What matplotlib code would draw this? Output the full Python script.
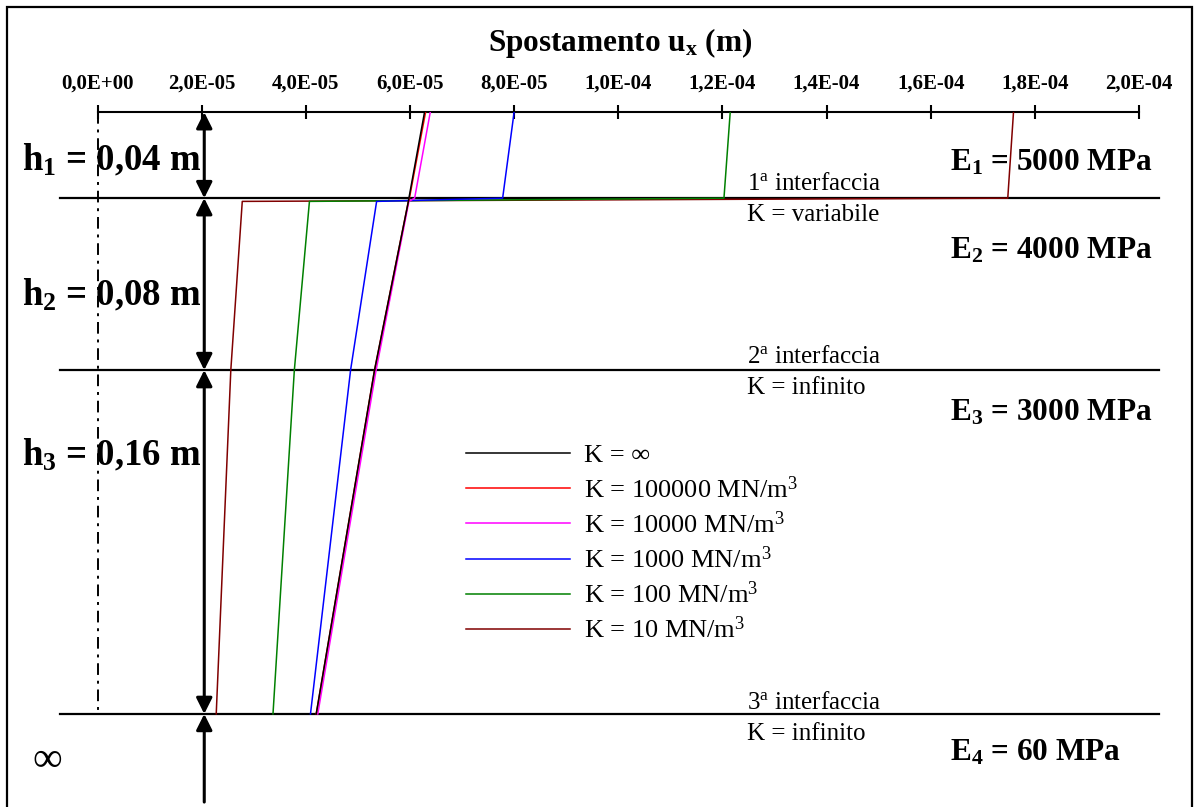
import matplotlib
matplotlib.use("Agg")
import matplotlib.pyplot as plt
from matplotlib.ticker import MultipleLocator, FuncFormatter
from matplotlib.patches import Rectangle

plt.rcParams['font.family'] = ['Liberation Serif', 'DejaVu Serif']
plt.rcParams['mathtext.default'] = 'regular'

# profondita' dei punti (m) e spostamenti ux (m) per le varie K
depth = [0.0, 0.04, 0.0415, 0.12, 0.28]
ux_inf = [6.28e-5, 5.98e-5, 5.97e-5, 5.32e-5, 4.20e-5]
ux_k100000 = [6.30e-5, 5.99e-5, 5.97e-5, 5.32e-5, 4.20e-5]
ux_k10000 = [6.39e-5, 6.09e-5, 5.98e-5, 5.35e-5, 4.23e-5]
ux_k1000 = [8.00e-5, 7.78e-5, 5.36e-5, 4.86e-5, 4.09e-5]
ux_k100 = [1.215e-4, 1.203e-4, 4.07e-5, 3.78e-5, 3.37e-5]
ux_k10 = [1.759e-4, 1.748e-4, 2.78e-5, 2.56e-5, 2.28e-5]

labels = ['K = ∞', 'K = 100000 MN/m$^{3}$', 'K = 10000 MN/m$^{3}$',
          'K = 1000 MN/m$^{3}$', 'K = 100 MN/m$^{3}$', 'K = 10 MN/m$^{3}$']
colors = ['black', '#FF0000', '#FF00FF', '#0000FF', '#008000', '#800000']
series = [ux_inf, ux_k100000, ux_k10000, ux_k1000, ux_k100, ux_k10]

interfaces = [0.04, 0.12, 0.28]
layer_h = ['h$_1$ = 0,04 m', 'h$_2$ = 0,08 m', 'h$_3$ = 0,16 m']
layer_E = ['E$_1$ = 5000 MPa', 'E$_2$ = 4000 MPa', 'E$_3$ = 3000 MPa', 'E$_4$ = 60 MPa']
iface_txt = [('1$^{a}$ interfaccia', 'K = variabile'),
             ('2$^{a}$ interfaccia', 'K = infinito'),
             ('3$^{a}$ interfaccia', 'K = infinito')]

W, H = 1200, 807
fig = plt.figure(figsize=(W / 100, H / 100), dpi=100)
ax = fig.add_axes([97.5 / W, 0, (1139 - 97.5) / W, 1 - 112.2 / H])

def px(x, y):
    return x / W, 1 - y / H

ax.set_xlim(0, 2.0e-4)
ax.set_ylim(0.3233, 0)
for s in ['left', 'right', 'bottom']:
    ax.spines[s].set_visible(False)
ax.spines['top'].set_linewidth(1.5)
ax.xaxis.tick_top()
ax.xaxis.set_major_locator(MultipleLocator(2e-5))
ax.xaxis.set_major_formatter(FuncFormatter(lambda v, p: ("%.1E" % v).replace('.', ',')))
ax.tick_params(axis='x', direction='inout', length=9.5, width=1.5, pad=9, labelsize=15)
for t in ax.get_xticklabels():
    t.set_fontweight('bold')
ax.set_yticks([])

# curve
for i in range(len(series)):
    ax.plot(series[i], depth, color=colors[i], lw=1.1, label=labels[i], zorder=10 - i)

# interfacce
for d in interfaces:
    ax.plot([-7.2e-6, 2.0375e-4], [d, d], color='black', lw=1.6, clip_on=False, zorder=3)

# asse x=0 tratto-punto
ax.plot([0, 0], [0, 0.28], color='black', lw=1.4, ls=(0, (6, 3, 1.5, 3)), clip_on=False)

# frecce spessori
xa = 2.05e-5
tops = [0.0] + interfaces
for i in range(3):
    ax.annotate('', xy=(xa, tops[i]), xytext=(xa, tops[i + 1]),
                arrowprops=dict(arrowstyle='<|-|>', mutation_scale=24, lw=2.2,
                                color='black', shrinkA=0, shrinkB=0), annotation_clip=False)
ax.annotate('', xy=(xa, 0.28), xytext=(xa, 0.321),
            arrowprops=dict(arrowstyle='-|>', mutation_scale=24, lw=2.2,
                            color='black', shrinkA=0, shrinkB=0), annotation_clip=False)

# testi
fig.text(*px(620, 43), 'Spostamento u$_x$ (m)', ha='center', va='center',
         fontsize=22.5, fontweight='bold')
for txt, y in zip(layer_h, [160, 295, 455]):
    fig.text(*px(22, y), txt, ha='left', va='center', fontsize=26.5, fontweight='bold')
for txt, y in zip(layer_E, [163, 251, 413, 753]):
    fig.text(*px(950, y), txt, ha='left', va='center', fontsize=22.5, fontweight='bold')
for (t1, t2), y in zip(iface_txt, [184, 357, 703]):
    fig.text(*px(747, y), t1, ha='left', va='center', fontsize=18)
    fig.text(*px(747, y + 31), t2, ha='left', va='center', fontsize=18)
fig.text(*px(47, 761), '∞', ha='center', va='center', fontsize=30)

leg = ax.legend(loc='upper left', bbox_to_anchor=px(442, 420), bbox_transform=fig.transFigure,
                frameon=False, fontsize=19, handlelength=3.95, handletextpad=0.55,
                labelspacing=0.33)

# cornice
fig.patches.append(Rectangle(px(7, 812), (1192 - 7) / W, 805 / H, fill=False,
                             edgecolor='black', lw=1.6, transform=fig.transFigure))

fig.savefig('out.png', dpi=100)
